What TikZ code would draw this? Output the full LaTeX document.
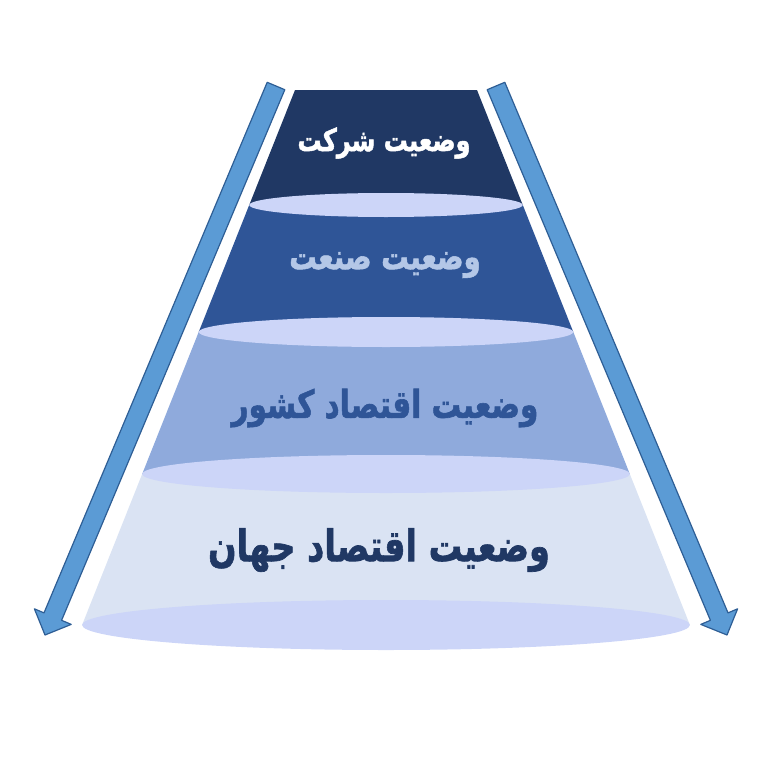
\documentclass[tikz,border=0pt]{standalone}
\usepackage{fontspec}
\TeXXeTstate=1
\newfontfamily\farsifont[Script=Arabic, BoldFeatures={FakeBold=1.6}]{DejaVu Sans}
\definecolor{layerA}{HTML}{203864}
\definecolor{layerB}{HTML}{2F5597}
\definecolor{layerC}{HTML}{8FAADC}
\definecolor{layerD}{HTML}{DAE3F3}
\definecolor{rim}{HTML}{CCD5F8}
\definecolor{arrowfill}{HTML}{5B9BD5}
\definecolor{arrowline}{HTML}{2E5E95}
\definecolor{textB}{HTML}{B4C7E7}
\newcommand\farsiline[2]{\scalebox{1}[1.3]{\fontsize{#1}{#1}\selectfont #2}}
\tikzset{
  label/.style={font=\farsifont\bfseries, inner sep=0pt},
  sidearrow/.style={fill=arrowfill, draw=arrowline, line width=1.2pt, line join=round}
}
\begin{document}
\begin{tikzpicture}[x=1pt,y=-1pt]
 \useasboundingbox (0,0) rectangle (768,768);
 % layers of the cone, bottom one first
 \foreach \t/\b/\c/\r in {474/625/layerD/25, 332/474/layerC/19, 205/332/layerB/15, 90/205/layerA/12}{
   \pgfmathsetmacro\ht{91+0.398*(\t-90)}
   \pgfmathsetmacro\hb{91+0.398*(\b-90)}
   \fill[\c] (386-\ht,\t) -- (386+\ht,\t) -- (386+\hb,\b) -- (386-\hb,\b) -- cycle;
   \fill[rim] (386,\b) ellipse [x radius=\hb, y radius=\r];
 }
 % arrows on both sides
 \foreach \s in {1,-1}{
   \begin{scope}[xshift=386pt, xscale=\s]
   \draw[sidearrow](-118.8,82.3)--(-101.2,89.7)--(-324.4,620.3)--(-314.8,624.4)
     --(-341,635)--(-351.6,608.8)--(-342.0,612.9)--cycle;
   \end{scope}
 }
 \node[label, white] (firm) at (384,143) {\farsiline{24}{\beginR وضعیت شرکت\endR}};
 \node[label, textB] (industry) at (385,265) {\farsiline{27.5}{\beginR وضعیت صنعت\endR}};
 \node[label, layerB] (country) at (385,408) {\farsiline{29.5}{\beginR وضعیت اقتصاد کشور\endR}};
 \node[label, layerA] (world) at (379,550) {\farsiline{33.5}{\beginR وضعیت اقتصاد جهان\endR}};
\end{tikzpicture}
\end{document}
